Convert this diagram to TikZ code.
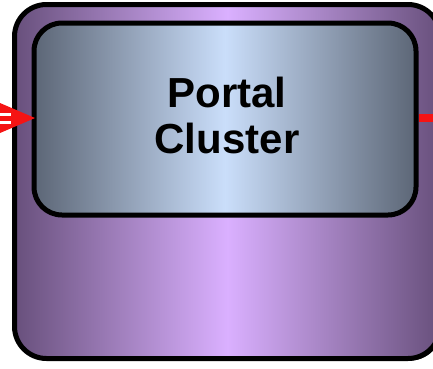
\documentclass[tikz,border=0pt]{standalone}
\usepackage{fontspec}
\setmainfont{Liberation Sans}
\begin{document}
\begin{tikzpicture}[x=1pt,y=1pt,
  outerbox/.style={draw=black,line width=5pt,rounded corners=32pt,
    left color=outerdark,right color=outerdark,middle color=outerlight},
  innerbox/.style={draw=black,line width=5pt,rounded corners=28pt,
    left color=innerdark,right color=innerdark,middle color=innerlight},
  label/.style={font=\bfseries\fontsize{42}{46}\selectfont,align=center,inner sep=0pt,text=black},
  redline/.style={draw=arrowred,line width=8pt}]
\definecolor{outerdark}{RGB}{104,80,124}
\definecolor{outerlight}{RGB}{218,176,255}
\definecolor{innerdark}{RGB}{92,102,118}
\definecolor{innerlight}{RGB}{202,222,250}
\definecolor{arrowred}{RGB}{245,20,20}
\useasboundingbox (0,0) rectangle (433,368);
% shadow
\fill[black,rounded corners=32pt] (16.5,7.5) rectangle (442,361.5);
% outer cluster box
\path[outerbox] (14.5,9.5) rectangle (440,363.5);
% inner box
\node[innerbox,minimum width=382pt,minimum height=192pt,anchor=north west] (inner) at (31.5,347.5) {};
% text
\node[label] (txt) at (227,253) {Portal\\Cluster};
% incoming arrow
\coordinate (inL) at (0,250);
\coordinate (tipL) at (35,250);
\fill[arrowred] (0,265) -- (tipL) -- (0,235) -- cycle;
\fill[white] (0,244.5) rectangle (11,255.5);
\fill[arrowred] (0,247.5) rectangle (11,252.5);
% outgoing line
\coordinate (outR) at (440,250);
\draw[redline] (inner.east |- outR) -- (outR);
\end{tikzpicture}
\end{document}
